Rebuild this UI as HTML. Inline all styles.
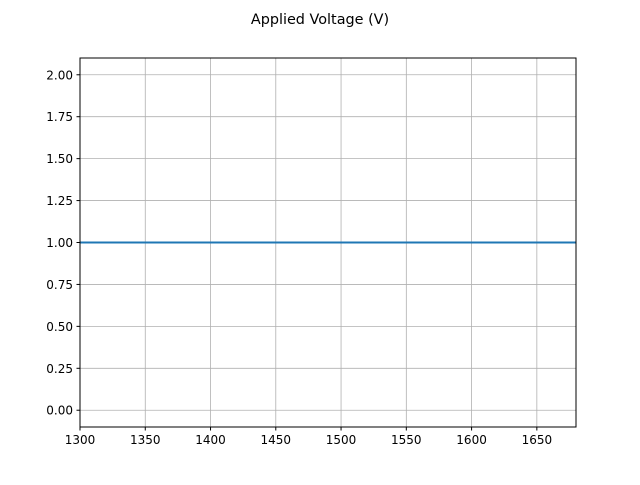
<!DOCTYPE html>
<html><head><meta charset="utf-8"><style>
body{margin:0;background:#fff;}
svg text{font-family:"DejaVu Sans","Liberation Sans",sans-serif;font-size:12px;fill:#000;}
</style></head><body>
<svg id="chart" width="640" height="480" xmlns="http://www.w3.org/2000/svg">
<text x="320" y="24" text-anchor="middle" style="font-size:14.4px">Applied Voltage (V)</text>
<g id="grid"></g>
<g id="ticks"></g>
<g id="series"></g>
<rect x="80" y="58" width="496" height="369" fill="none" stroke="#000" stroke-width="1"/>
</svg>
<script>
const xTicks=[1300,1350,1400,1450,1500,1550,1600,1650];
const yTicks=[0,0.25,0.5,0.75,1,1.25,1.5,1.75,2];
const yTickLabels=["0.00","0.25","0.50","0.75","1.00","1.25","1.50","1.75","2.00"];
const seriesX=[1300,1680];
const seriesY=[1,1];
const X0=80,X1=576,Y0=427,Y1=58,xmin=1300,xmax=1680,ymin=-0.1,ymax=2.1;
const sx=v=>X0+(v-xmin)/(xmax-xmin)*(X1-X0);
const sy=v=>Y0-(v-ymin)/(ymax-ymin)*(Y0-Y1);
const NS="http://www.w3.org/2000/svg";
const grid=document.getElementById('grid'),ticks=document.getElementById('ticks'),ser=document.getElementById('series');
function mk(t,a,p){const e=document.createElementNS(NS,t);for(const k in a)e.setAttribute(k,a[k]);p.appendChild(e);return e;}
xTicks.forEach(v=>{const x=sx(v);
const g=mk('line',{x1:x,x2:x,y1:Y1,y2:Y0,stroke:'#b0b0b0','stroke-width':0.8},grid);


const t=mk('line',{x1:x,x2:x,y1:Y0,y2:Y0+3.5,stroke:'#000'},ticks);


const l=mk('text',{x:x,y:Y0+17,'text-anchor':'middle'},ticks);l.textContent=v;

});
yTicks.forEach((v,i)=>{const y=sy(v);
const g=mk('line',{x1:X0,x2:X1,y1:y,y2:y,stroke:'#b0b0b0','stroke-width':0.8},grid);


const t=mk('line',{x1:X0-3.5,x2:X0,y1:y,y2:y,stroke:'#000'},ticks);


const l=mk('text',{x:X0-7,y:y+4.5,'text-anchor':'end'},ticks);l.textContent=yTickLabels[i];

});
const pts=seriesX.map((v,i)=>sx(v)+','+sy(seriesY[i])).join(' ');
const pl=mk('polyline',{points:pts,fill:'none',stroke:'#1f77b4','stroke-width':2},ser);


</script>
</body></html>
